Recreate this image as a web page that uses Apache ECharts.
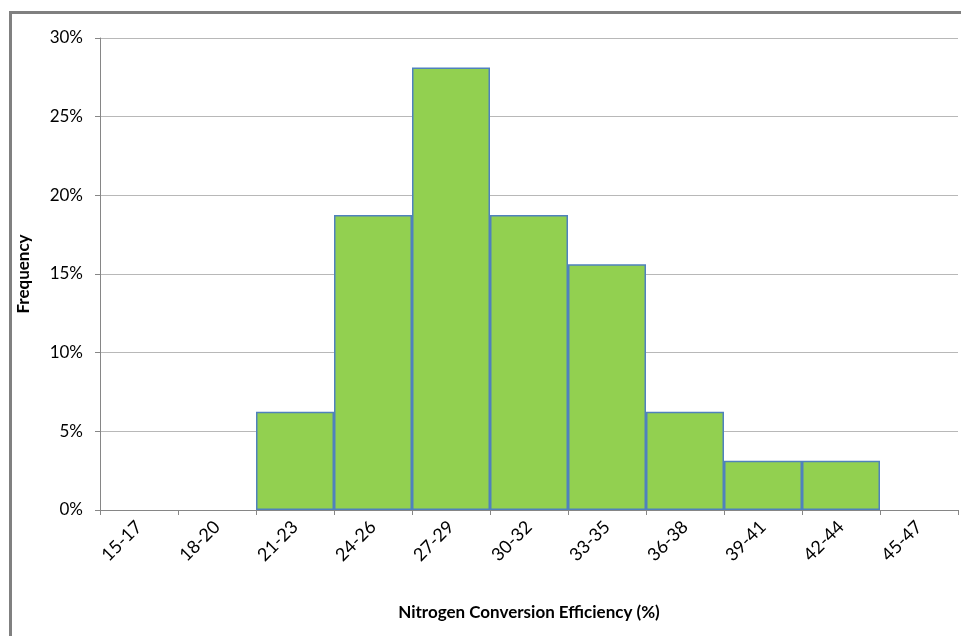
<!DOCTYPE html>
<html>
<head>
<meta charset="utf-8">
<script src="https://cdn.jsdelivr.net/npm/echarts@6/dist/echarts.min.js"></script>
<style>
  html, body { margin: 0; padding: 0; background: #fff; }
  #chart { width: 961px; height: 636px; }
</style>
</head>
<body>
<div id="chart"></div>
<script>
// Histogram bins of nitrogen conversion efficiency
const binLabels = ['15-17', '18-20', '21-23', '24-26', '27-29', '30-32', '33-35', '36-38', '39-41', '42-44', '45-47'];
// Share of samples in each bin (%)
const frequencyPct = [0, 0, 6.25, 18.75, 28.125, 18.75, 15.625, 6.25, 3.125, 3.125, 0];
const yTicks = { min: 0, max: 30, step: 5 };

const fontFamily = 'Lato, "Open Sans", "Liberation Sans", sans-serif';

const chart = echarts.init(document.getElementById('chart'), null, { renderer: 'canvas' });

chart.setOption({
  animation: false,
  backgroundColor: '#ffffff',
  graphic: [{
    type: 'rect',
    silent: true,
    shape: { x: 10.5, y: 12.5, width: 1000, height: 700 },
    style: { fill: 'none', stroke: '#808080', lineWidth: 3 }
  }],
  grid: { left: 100, right: 3, top: 38, bottom: 126 },
  xAxis: {
    type: 'category',
    data: binLabels,
    boundaryGap: true,
    name: 'Nitrogen Conversion Efficiency (%)',
    nameLocation: 'middle',
    nameGap: 94,
    nameTextStyle: { fontFamily, fontSize: 17, fontWeight: 'bold', color: '#000' },
    axisLine: { lineStyle: { color: '#868686', width: 1 } },
    axisTick: { show: true, length: 5, lineStyle: { color: '#868686' } },
    axisLabel: { rotate: 45, fontFamily, fontSize: 18, color: '#000', margin: 14 },
    splitLine: { show: false }
  },
  yAxis: {
    type: 'value',
    min: yTicks.min,
    max: yTicks.max,
    interval: yTicks.step,
    name: 'Frequency',
    nameLocation: 'middle',
    nameGap: 68,
    nameTextStyle: { fontFamily, fontSize: 17, fontWeight: 'bold', color: '#000' },
    axisLine: { show: true, lineStyle: { color: '#868686', width: 1 } },
    axisTick: { show: true, length: 5, lineStyle: { color: '#868686' } },
    axisLabel: { formatter: '{value}%', fontFamily, fontSize: 17, color: '#000', margin: 17 },
    splitLine: { show: true, lineStyle: { color: '#b8b8b8', width: 1 } }
  },
  series: [{
    type: 'bar',
    // empty bins get no bar so no outline is drawn on the baseline
    data: frequencyPct.map(v => (v === 0 ? '-' : v)),
    barCategoryGap: '0%',
    itemStyle: { color: '#92d050', borderColor: '#4f81bd', borderWidth: 1.5 }
  }]
});
</script>
</body>
</html>
